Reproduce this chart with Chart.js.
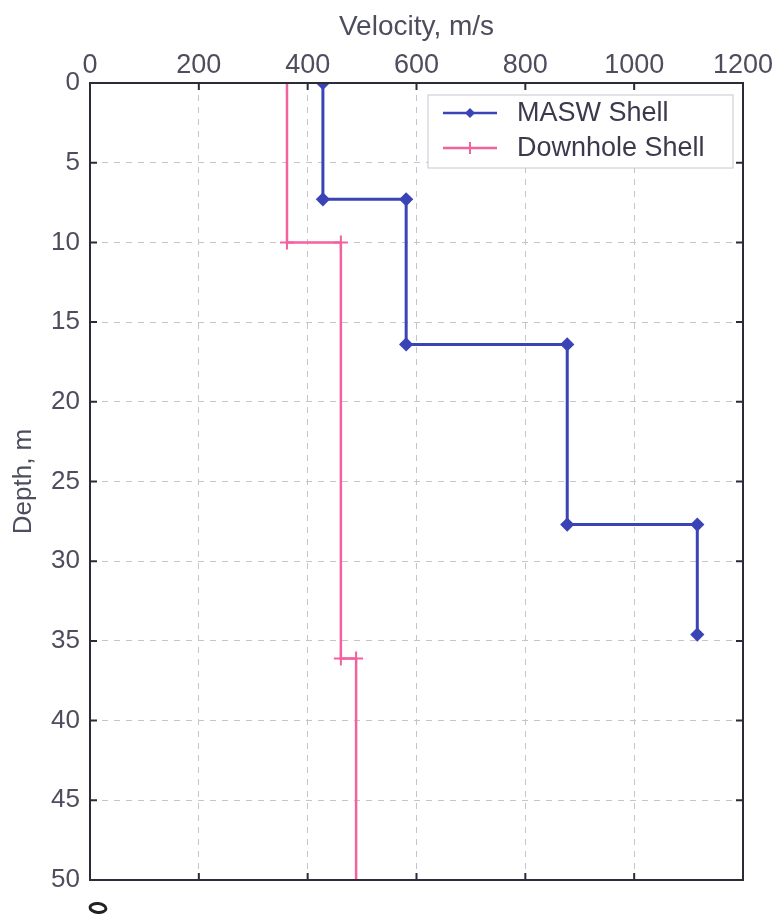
<!DOCTYPE html>
<html>
<head>
<meta charset="utf-8">
<script src="https://cdn.jsdelivr.net/npm/chart.js@4"></script>
<style>
  html, body { margin: 0; padding: 0; background: #fff; }
  #wrap { width: 779px; height: 916px; position: relative; }
</style>
</head>
<body>
<div id="wrap"><canvas id="velocityChart"></canvas></div>
<script>
// shear-wave velocity profiles (velocity in m/s, depth in m)
const maswVelocity = [428, 428, 581, 581, 877, 877, 1116, 1116];
const maswDepth = [0, 7.3, 7.3, 16.4, 16.4, 27.7, 27.7, 34.6];
const downholeVelocity = [362, 362, 461, 461, 489, 489];
const downholeDepth = [0, 10, 10, 36.1, 36.1, 50];
const seriesNames = ["MASW Shell", "Downhole Shell"];
const xTicks = [0, 200, 400, 600, 800, 1000, 1200];
const yTicks = [0, 5, 10, 15, 20, 25, 30, 35, 40, 45, 50];

const BLUE = "#3a44b6";
const PINK = "#f2629f";
const TEXT = "#4d4d5e";
const FONT = "Arial, 'Liberation Sans', sans-serif";

const toPoints = (xs, ys) => xs.map((x, i) => ({ x: x, y: ys[i] }));

// frame, inward ticks, legend box
const framePlugin = {
  id: "frame",
  afterDraw(chart) {
    const { ctx, chartArea: a, scales } = chart;
    ctx.save();
    ctx.strokeStyle = "#2b2b3a";
    ctx.lineWidth = 2;
    ctx.strokeRect(a.left, a.top, a.right - a.left, a.bottom - a.top);

    ctx.beginPath();
    xTicks.forEach((v) => {
      const px = scales.x.getPixelForValue(v);
      ctx.moveTo(px, a.top); ctx.lineTo(px, a.top + 7);
      ctx.moveTo(px, a.bottom); ctx.lineTo(px, a.bottom - 7);
    });
    yTicks.forEach((v) => {
      const py = scales.y.getPixelForValue(v);
      ctx.moveTo(a.left, py); ctx.lineTo(a.left + 7, py);
      ctx.moveTo(a.right, py); ctx.lineTo(a.right - 7, py);
    });
    ctx.stroke();

    // legend
    const lx = 428, ly = 95, lw = 305, lh = 73;
    ctx.fillStyle = "#fff";
    ctx.fillRect(lx, ly, lw, lh);
    ctx.strokeStyle = "#c8c8d0";
    ctx.lineWidth = 1;
    ctx.strokeRect(lx, ly, lw, lh);
    chart.data.datasets.forEach((ds, i) => {
      const y = ly + 18 + i * 35;
      ctx.strokeStyle = ds.borderColor;
      ctx.lineWidth = 2.5;
      ctx.beginPath();
      ctx.moveTo(lx + 15, y); ctx.lineTo(lx + 69, y);
      ctx.stroke();
      const cx = lx + 42;
      ctx.beginPath();
      if (i === 0) {
        ctx.fillStyle = ds.borderColor;
        ctx.moveTo(cx, y - 5); ctx.lineTo(cx + 5, y); ctx.lineTo(cx, y + 5); ctx.lineTo(cx - 5, y);
        ctx.closePath(); ctx.fill();
      } else {
        ctx.lineWidth = 2;
        ctx.moveTo(cx, y - 6); ctx.lineTo(cx, y + 6);
        ctx.stroke();
      }
      ctx.fillStyle = "#3a3a4c";
      ctx.font = "27px " + FONT;
      ctx.textBaseline = "middle";
      ctx.textAlign = "left";
      ctx.fillText(ds.label, lx + 89, y + 1);
    });

    // small oval mark under the lower-left corner
    ctx.strokeStyle = "#222";
    ctx.lineWidth = 3;
    ctx.beginPath();
    ctx.ellipse(a.left + 8, a.bottom + 28, 8, 4.5, 0.1, 0, Math.PI * 2);
    ctx.stroke();
    ctx.restore();
  },
};

const ctx = document.getElementById("velocityChart").getContext("2d");
new Chart(ctx, {
  type: "scatter",
  data: {
    datasets: [
      {
        label: seriesNames[0],
        data: toPoints(maswVelocity, maswDepth),
        showLine: true,
        borderColor: BLUE,
        backgroundColor: BLUE,
        borderWidth: 3,
        pointStyle: "rectRot",
        pointRadius: 5,
        pointHoverRadius: 5,
      },
      {
        label: seriesNames[1],
        data: toPoints(downholeVelocity, downholeDepth),
        showLine: true,
        borderColor: PINK,
        backgroundColor: PINK,
        borderWidth: 2.5,
        pointStyle: "cross",
        pointRadius: 7,
        pointHoverRadius: 7,
        pointBorderWidth: 2,
      },
    ],
  },
  options: {
    responsive: true,
    maintainAspectRatio: false,
    animation: false,
    layout: { padding: { left: 0, top: 0, right: 36, bottom: 36 } },
    plugins: {
      legend: { display: false },
      tooltip: { enabled: false },
    },
    scales: {
      x: {
        type: "linear",
        position: "top",
        min: 0,
        max: 1200,
        afterBuildTicks: (scale) => { scale.ticks = xTicks.map((v) => ({ value: v })); },
        afterFit: (scale) => { scale.height = 83; },
        ticks: {
          color: TEXT,
          font: { family: FONT, size: 27 },
          padding: 1,
          maxRotation: 0,
          callback: (v) => String(v),
        },
        grid: { color: "#c4c4cc", drawTicks: false, lineWidth: 1 },
        border: { display: false, dash: [6, 6] },
        title: {
          display: true,
          text: "Velocity, m/s",
          color: TEXT,
          font: { family: FONT, size: 28 },
          padding: { top: 10, bottom: 2 },
        },
      },
      y: {
        type: "linear",
        reverse: true,
        min: 0,
        max: 50,
        afterBuildTicks: (scale) => { scale.ticks = yTicks.map((v) => ({ value: v })); },
        afterFit: (scale) => { scale.width = 90; },
        ticks: {
          color: TEXT,
          font: { family: FONT, size: 26 },
          padding: 10,
          callback: (v) => String(v),
        },
        grid: { color: "#c4c4cc", drawTicks: false, lineWidth: 1 },
        border: { display: false, dash: [6, 6] },
        title: {
          display: true,
          text: "Depth, m",
          color: TEXT,
          font: { family: FONT, size: 26 },
          padding: { top: 8, bottom: 0 },
        },
      },
    },
  },
  plugins: [framePlugin],
});
</script>
</body>
</html>
